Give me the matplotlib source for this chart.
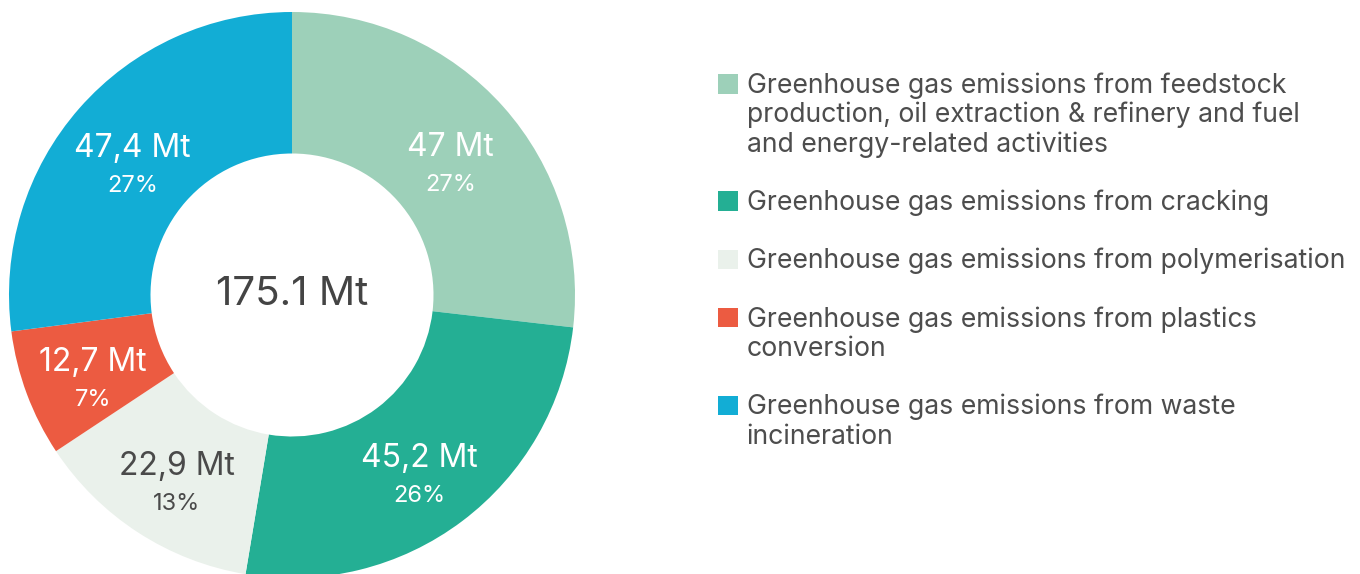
import numpy as np
import matplotlib
matplotlib.use('Agg')
import matplotlib.pyplot as plt
from matplotlib.patches import Rectangle

plt.rcParams['font.family'] = ['Inter', 'DejaVu Sans']

# ── data ──────────────────────────────────────────────────────────────────────
CATEGORIES = [
    "Greenhouse gas emissions from feedstock\nproduction, oil extraction & refinery and fuel\nand energy-related activities",
    "Greenhouse gas emissions from cracking",
    "Greenhouse gas emissions from polymerisation",
    "Greenhouse gas emissions from plastics\nconversion",
    "Greenhouse gas emissions from waste\nincineration",
]
VALUES       = [47.0, 45.2, 22.9, 12.7, 47.4]
VALUE_LABELS = ["47 Mt", "45,2 Mt", "22,9 Mt", "12,7 Mt", "47,4 Mt"]
PCT_LABELS   = ["27%", "26%", "13%", "7%", "27%"]
TOTAL_LABEL  = "175.1 Mt"

COLORS       = ['#9DD0B9', '#24AF94', '#EAF1EB', '#EC5B41', '#12ADD5']
LABEL_COLORS = ['white', 'white', '#4a4a4a', 'white', 'white']
TEXT_COLOR   = '#4d4d4d'

# ── figure ────────────────────────────────────────────────────────────────────
W, H = 1360, 574
fig = plt.figure(figsize=(W / 100, H / 100), dpi=100)

cx, cy, R = 292, 295, 283   # donut centre / radius in pixels
ax = fig.add_axes([(cx - R) / W, (H - cy - R) / H, 2 * R / W, 2 * R / H])
wedges, _ = ax.pie(VALUES, colors=COLORS, startangle=90, counterclock=False,
                   radius=1.0, wedgeprops=dict(width=0.5, linewidth=0))
ax.set_xlim(-1, 1)
ax.set_ylim(-1, 1)
ax.axis('off')

PX = 0.72  # pixels -> points at dpi 100
for w, vlab, plab, col in zip(wedges, VALUE_LABELS, PCT_LABELS, LABEL_COLORS):
    th = np.deg2rad((w.theta1 + w.theta2) / 2)
    x, y = 0.75 * np.cos(th), 0.75 * np.sin(th)
    ax.annotate(vlab, (x, y), xytext=(0, -2 * PX), textcoords='offset points',
                ha='center', va='baseline', fontsize=23, color=col)
    ax.annotate(plab, (x, y), xytext=(0, -37 * PX), textcoords='offset points',
                ha='center', va='baseline', fontsize=17, color=col)

# overlay in pixel coordinates for centre text and legend
lax = fig.add_axes([0, 0, 1, 1])
lax.set_xlim(0, W)
lax.set_ylim(H, 0)
lax.axis('off')

lax.text(cx, 305, TOTAL_LABEL, ha='center', va='baseline', fontsize=29,
         color='#444444')

LINE_H = 29.2
top = 74.3
for lab, col in zip(CATEGORIES, COLORS):
    lax.add_patch(Rectangle((718.3, top), 19.5, 19.5, facecolor=col, edgecolor='none'))
    lines = lab.split('\n')
    for i, line in enumerate(lines):
        lax.text(746.7, top + 19 + i * LINE_H, line, ha='left', va='baseline',
                 fontsize=19.2, color=TEXT_COLOR)
    top += (len(lines) + 1) * LINE_H

fig.savefig('out.png', dpi=100)
